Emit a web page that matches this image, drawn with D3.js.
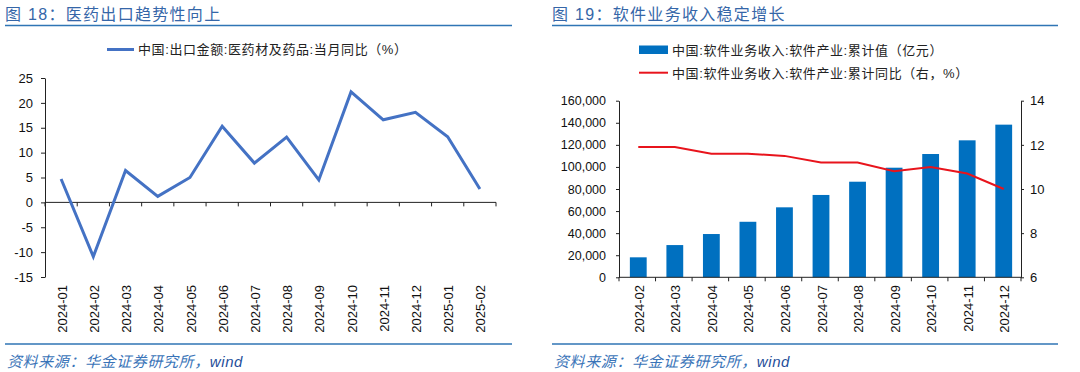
<!DOCTYPE html>
<html><head><meta charset="utf-8">
<script src="https://cdn.jsdelivr.net/npm/d3@7"></script>
<style>
body{margin:0;background:#fff;}
svg{display:block;font-family:"Liberation Sans","Noto Sans CJK SC",sans-serif;}
</style></head>
<body><svg id="c" width="1080" height="372"></svg>
<script>
// ---- Data ----
const months1 = ["2024-01","2024-02","2024-03","2024-04","2024-05","2024-06","2024-07","2024-08","2024-09","2024-10","2024-11","2024-12","2025-01","2025-02"];
const pharmaYoY = [4.7,-10.9,6.4,1.2,5.0,15.3,7.9,13.1,4.5,22.2,16.6,18.1,13.2,2.7];
const yTicks1 = [-15,-10,-5,0,5,10,15,20,25];

const months2 = ["2024-02","2024-03","2024-04","2024-05","2024-06","2024-07","2024-08","2024-09","2024-10","2024-11","2024-12"];
const softwareRevenue = [18100,29200,39200,50300,63400,74600,86600,99300,111700,124100,138300];
const softwareYoY = [11.9,11.9,11.6,11.6,11.5,11.2,11.2,10.8,11.0,10.7,10.0];
const yTicks2L = [0,20000,40000,60000,80000,100000,120000,140000,160000];
const yTicks2R = [6,8,10,12,14];

const titles = ["图 18：医药出口趋势性向上","图 19：软件业务收入稳定增长"];
const legend1 = "中国:出口金额:医药材及药品:当月同比（%）";
const legend2a = "中国:软件业务收入:软件产业:累计值（亿元）";
const legend2b = "中国:软件业务收入:软件产业:累计同比（右，%）";
const source = "资料来源：华金证券研究所，";

const svg = d3.select("#c");
const blue = "#2f75b5";

// headers/footers
function frame(x0, x1, title){
  svg.append("text").attr("x",x0).attr("y",20).attr("font-size",16).attr("letter-spacing",1.3)
    .attr("fill","#3566a8").text(title);
  svg.append("line").attr("x1",x0).attr("x2",x1).attr("y1",25.5).attr("y2",25.5).attr("stroke",blue).attr("stroke-width",1.5);
  svg.append("line").attr("x1",x0).attr("x2",x1).attr("y1",344).attr("y2",344).attr("stroke",blue).attr("stroke-width",1.5);
  const t = svg.append("text").attr("x",x0+2).attr("y",367).attr("font-size",15).attr("font-style","italic").attr("letter-spacing",0.6).attr("fill","#3a74b8");
  t.append("tspan").text(source);
  t.append("tspan").attr("fill","#1f4e9a").text("wind");
}
frame(5,512,titles[0]);
frame(552,1058,titles[1]);

// ---- Left chart ----
const x1 = d3.scaleBand().domain(months1).range([45,496]);
const y1 = d3.scaleLinear().domain([-15,25]).range([277,78]);
const g1 = svg.append("g");
g1.append("g").attr("transform","translate(45,0)")
  .call(d3.axisLeft(y1).tickValues(yTicks1).tickFormat(d=>String(d)).tickSize(4).tickSizeOuter(0).tickPadding(8))
  .call(g=>{g.selectAll("text").attr("font-size",13).attr("fill","#111").attr("font-family",null);
            g.selectAll("line,path").attr("stroke","#222");});
// x axis line at 0
g1.append("line").attr("x1",45).attr("x2",496).attr("y1",y1(0)).attr("y2",y1(0)).attr("stroke","#222");
g1.selectAll(".xt").data(months1.concat(["end"])).join("line")
  .attr("x1",(d,i)=>i<months1.length?x1(d):x1.range()[1]).attr("x2",(d,i)=>i<months1.length?x1(d):x1.range()[1])
  .attr("y1",y1(0)).attr("y2",y1(0)+4).attr("stroke","#222");
g1.selectAll(".xl").data(months1).join("text")
  .attr("transform",d=>`translate(${x1(d)+x1.bandwidth()/2+1},285) rotate(-90)`)
  .attr("text-anchor","end").attr("dy","0.35em").attr("font-size",13).attr("fill","#111").text(d=>d);
g1.append("path").datum(pharmaYoY)
  .attr("d",d3.line().x((d,i)=>x1(months1[i])+x1.bandwidth()/2).y(d=>y1(d)))
  .attr("fill","none").attr("stroke","#4472c4").attr("stroke-width",3).attr("stroke-linejoin","miter");
// legend
g1.append("line").attr("x1",107).attr("x2",134).attr("y1",49.5).attr("y2",49.5).attr("stroke","#4472c4").attr("stroke-width",3);
g1.append("text").attr("x",138).attr("y",54).attr("font-size",13).attr("letter-spacing",0.6).attr("fill","#222").text(legend1);

// ---- Right chart ----
const x2 = d3.scaleBand().domain(months2).range([619,1021]);
const y2 = d3.scaleLinear().domain([0,160000]).range([277.3,100.7]);
const y2r = d3.scaleLinear().domain([6,14]).range([277.3,100.7]);
const g2 = svg.append("g");
const bw = x2.bandwidth()*0.46;
g2.selectAll("rect").data(softwareRevenue).join("rect")
  .attr("x",(d,i)=>x2(months2[i])+(x2.bandwidth()-bw)/2+1)
  .attr("width",bw).attr("y",d=>y2(d)).attr("height",d=>y2(0)-y2(d)).attr("fill","#0070c0");
g2.append("g").attr("transform","translate(619,0)")
  .call(d3.axisLeft(y2).tickValues(yTicks2L).tickFormat(d3.format(",")).tickSize(3).tickSizeOuter(0).tickPadding(10))
  .call(g=>{g.selectAll("text").attr("font-size",12.5).attr("fill","#111").attr("font-family",null);
            g.selectAll("line,path").attr("stroke","#222");});
g2.append("g").attr("transform","translate(1021,0)")
  .call(d3.axisRight(y2r).tickValues(yTicks2R).tickSize(3).tickSizeOuter(0).tickPadding(6))
  .call(g=>{g.selectAll("text").attr("font-size",13).attr("fill","#111").attr("font-family",null);
            g.selectAll("line,path").attr("stroke","#222");});
g2.append("line").attr("x1",619).attr("x2",1021).attr("y1",y2(0)).attr("y2",y2(0)).attr("stroke","#222");
g2.selectAll(".xt").data(months2.concat(["end"])).join("line")
  .attr("x1",(d,i)=>i<months2.length?x2(d):x2.range()[1]).attr("x2",(d,i)=>i<months2.length?x2(d):x2.range()[1])
  .attr("y1",y2(0)).attr("y2",y2(0)+4).attr("stroke","#222");
g2.selectAll(".xl").data(months2).join("text")
  .attr("transform",d=>`translate(${x2(d)+x2.bandwidth()/2+2},285) rotate(-90)`)
  .attr("text-anchor","end").attr("dy","0.35em").attr("font-size",13).attr("fill","#111").text(d=>d);
g2.append("path").datum(softwareYoY)
  .attr("d",d3.line().x((d,i)=>x2(months2[i])+x2.bandwidth()/2+1).y(d=>y2r(d)))
  .attr("fill","none").attr("stroke","#e8141c").attr("stroke-width",2);
// legend
g2.append("rect").attr("x",639).attr("y",45.5).attr("width",29).attr("height",8.5).attr("fill","#0070c0");
g2.append("text").attr("x",672).attr("y",54.5).attr("font-size",13).attr("letter-spacing",0.6).attr("fill","#222").text(legend2a);
g2.append("line").attr("x1",639).attr("x2",668).attr("y1",72.7).attr("y2",72.7).attr("stroke","#e8141c").attr("stroke-width",2);
g2.append("text").attr("x",672).attr("y",77.5).attr("font-size",13).attr("letter-spacing",0.6).attr("fill","#222").text(legend2b);
</script></body></html>
